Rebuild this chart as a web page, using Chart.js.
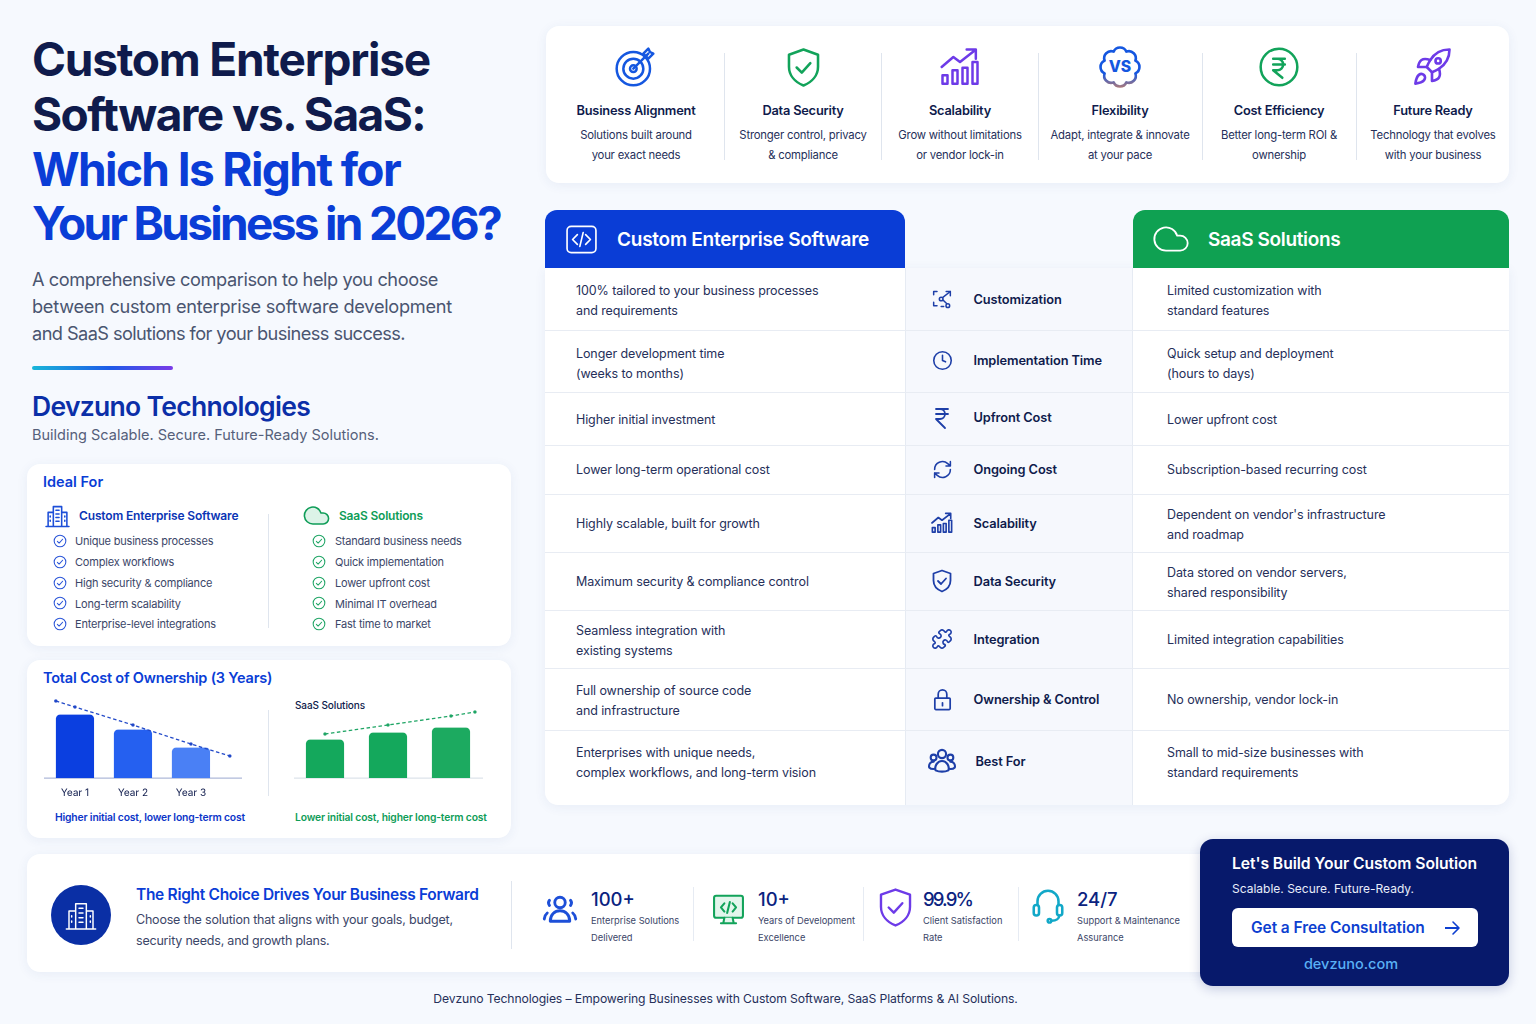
<!DOCTYPE html>
<html>
<head>
<meta charset="utf-8">
<title>Custom Enterprise Software vs. SaaS</title>
<script src="https://cdn.jsdelivr.net/npm/chart.js@4"></script>
<style>
html, body { margin: 0; padding: 0; }
body { width: 1536px; height: 1024px; position: relative; overflow: hidden; background: #f6f9fe; font-family: Inter, "Noto Sans", sans-serif; color: #0f1b4c; }
.t { position: absolute; white-space: nowrap; transform: translateY(-50%); line-height: 1; }
.box { position: absolute; }
.card { position: absolute; background: #fff; border-radius: 13px; box-shadow: 0 2px 12px rgba(40,70,140,.07); }
svg.i { position: absolute; fill: none; stroke-linecap: round; stroke-linejoin: round; overflow: visible; }
canvas { position: absolute; }
</style>
</head>
<body>
<canvas id="customChart"></canvas>
<canvas id="saasChart"></canvas>
<script>
// Chart data
var yearLabels = ["Year 1", "Year 2", "Year 3"];
var customCost = [63, 48, 30];
var saasCost = [38, 45, 50];
var customTrendAt = [0.67, 1, 2, 3, 3.67];
var customTrend = [77, 71, 53, 34, 22];
var saasTrendAt = [1, 2, 3, 3.38];
var saasTrend = [44, 53, 62, 66];

// Feature strip
var featureTitles = ["Business Alignment", "Data Security", "Scalability", "Flexibility", "Cost Efficiency", "Future Ready"];
var featureLines = [
  ["Solutions built around", "your exact needs"],
  ["Stronger control, privacy", "& compliance"],
  ["Grow without limitations", "or vendor lock-in"],
  ["Adapt, integrate & innovate", "at your pace"],
  ["Better long-term ROI &", "ownership"],
  ["Technology that evolves", "with your business"]
];

// Comparison table
var rowNames = ["Customization", "Implementation Time", "Upfront Cost", "Ongoing Cost", "Scalability", "Data Security", "Integration", "Ownership & Control", "Best For"];
var customText = [
  ["100% tailored to your business processes", "and requirements"],
  ["Longer development time", "(weeks to months)"],
  ["Higher initial investment"],
  ["Lower long-term operational cost"],
  ["Highly scalable, built for growth"],
  ["Maximum security & compliance control"],
  ["Seamless integration with", "existing systems"],
  ["Full ownership of source code", "and infrastructure"],
  ["Enterprises with unique needs,", "complex workflows, and long-term vision"]
];
var saasText = [
  ["Limited customization with", "standard features"],
  ["Quick setup and deployment", "(hours to days)"],
  ["Lower upfront cost"],
  ["Subscription-based recurring cost"],
  ["Dependent on vendor's infrastructure", "and roadmap"],
  ["Data stored on vendor servers,", "shared responsibility"],
  ["Limited integration capabilities"],
  ["No ownership, vendor lock-in"],
  ["Small to mid-size businesses with", "standard requirements"]
];

// Ideal for
var idealCustom = ["Unique business processes", "Complex workflows", "High security & compliance", "Long-term scalability", "Enterprise-level integrations"];
var idealSaas = ["Standard business needs", "Quick implementation", "Lower upfront cost", "Minimal IT overhead", "Fast time to market"];

// Stats
var statValues = ["100+", "10+", "99.9%", "24/7"];
var statLines = [
  ["Enterprise Solutions", "Delivered"],
  ["Years of Development", "Excellence"],
  ["Client Satisfaction", "Rate"],
  ["Support & Maintenance", "Assurance"]
];

var NAVY = "#0f1b4c", GREY = "#3b4668", BLUE = "#0a3dd6", GREEN = "#0f9d58";

// ----------------------------------- Icons -------------------------------------------
var ICONS = {
  target: '<circle cx="11" cy="13" r="10"/><circle cx="11" cy="13" r="6"/><circle cx="11" cy="13" r="2"/><path d="M11 13L20 4M17 4l3-3 1 2 2 1-3 3z"/>',
  shield: '<path d="M12 1.5l8.5 3v7c0 5-3.5 9-8.5 11-5-2-8.500-6-8.500-11v-7z"/><path d="M8 12l3 3 5-5.500"/>',
  growth: '<path d="M1 12l7-6 4 3 9-7M16 1.500h5.500V7"/><rect x="1.500" y="17" width="3" height="5"/><rect x="7.500" y="14" width="3" height="8"/><rect x="13.500" y="12.500" width="3" height="9.500"/><rect x="19.500" y="9" width="3" height="13"/>',
  gear: '<defs><linearGradient id="gearStroke" gradientUnits="userSpaceOnUse" x1="0" y1="12" x2="0" y2="24"><stop offset="0.3" stop-color="#1557e0"/><stop offset="1" stop-color="#b07a78"/></linearGradient></defs><path stroke="url(#gearStroke)" d="M20.780 8.360A4 4 0 0 0 15.640 3.220 4 4 0 0 0 8.360 3.220 4 4 0 0 0 3.220 8.360 4 4 0 0 0 3.220 15.640 4 4 0 0 0 8.360 20.780 4 4 0 0 0 15.640 20.780 4 4 0 0 0 20.780 15.640 4 4 0 0 0 20.780 8.360z"/><text x="12" y="15" text-anchor="middle" font-size="9" font-weight="800" fill="currentColor" stroke="none">VS</text>',
  rupeeCircle: '<circle cx="12" cy="12" r="11"/><path d="M8.500 7h7M8.500 10.500h7M8.500 7h2.500a3.500 3.500 0 0 1 0 7h-2.500l5.500 4.500"/>',
  rocket: '<path d="M4.500 16.500c-1.500 1.260-2 5-2 5s3.740-.5 5-2c.71-.84.7-2.130-.09-2.910a2.180 2.180 0 0 0-2.910-.09z"/><path d="M12 15l-3-3a22 22 0 0 1 2-3.950A12.880 12.880 0 0 1 22 2c0 2.720-.78 7.500-6 11a22.350 22.350 0 0 1-4 2z"/><path d="M9 12H4s.55-3.030 2-4c1.620-1.080 5 0 5 0"/><path d="M12 15v5s3.030-.55 4-2c1.080-1.620 0-5 0-5"/><circle cx="15.500" cy="8.500" r="1.500"/>',
  code: '<rect x="1.500" y="2.500" width="21" height="19" rx="3"/><path d="M9 8.500L5.500 12 9 15.500M15 8.500l3.500 3.500-3.500 3.500M13.200 7l-2.400 10"/>',
  cloud: '<path d="M17.500 19H9a7 7 0 1 1 6.710-9h1.790a4.500 4.500 0 1 1 0 9Z"/>',
  custom: '<path d="M2 7V3h4M2 16v4h4M17 3h5v5"/><circle cx="11" cy="12" r="2.200"/><circle cx="19" cy="20" r="2.200"/><path d="M13 10l9-7M13.500 13.500l4 4M14 21h-3"/>',
  clock: '<circle cx="12" cy="12" r="10"/><path d="M12 6v6l3.500 1.500"/>',
  rupee: '<path d="M6 3h12M6 8h12M6 3h4a5 5 0 0 1 0 10H6l9 9"/>',
  refresh: '<path d="M3 12a9 9 0 0 1 15-6.700L21 8M21 3v5h-5M21 12a9 9 0 0 1-15 6.700L3 16M8 16H3v5"/>',
  puzzle: '<path d="M19.439 7.850c-.049.322.059.648.289.878l1.568 1.568c.47.47.706 1.087.706 1.704s-.235 1.233-.706 1.704l-1.611 1.611a.98.98 0 0 1-.837.276c-.47-.07-.802-.48-.968-.925a2.501 2.501 0 1 0-3.214 3.214c.446.166.855.497.925.968a.979.979 0 0 1-.276.837l-1.610 1.610a2.404 2.404 0 0 1-1.705.707 2.402 2.402 0 0 1-1.704-.706l-1.568-1.568a1.026 1.026 0 0 0-.877-.29c-.493.074-.84.504-1.020.968a2.500 2.500 0 1 1-3.237-3.237c.464-.18.894-.527.967-1.020a1.026 1.026 0 0 0-.289-.877l-1.568-1.568A2.402 2.402 0 0 1 1.998 12c0-.617.236-1.234.706-1.704L4.230 8.770c.24-.24.581-.353.917-.303.515.077.877.528 1.073 1.010a2.500 2.500 0 1 0 3.259-3.259c-.482-.196-.933-.558-1.010-1.073-.05-.336.062-.676.303-.917l1.525-1.525A2.402 2.402 0 0 1 12 1.998c.617 0 1.234.236 1.704.706l1.568 1.568c.23.23.556.338.877.29.493-.074.84-.504 1.020-.968a2.500 2.500 0 1 1 3.237 3.237c-.464.18-.894.527-.967 1.020Z"/>',
  lock: '<rect x="4" y="10.500" width="16" height="12" rx="1"/><path d="M7.500 10.500V6.500a4.500 4.500 0 0 1 9 0v4M12 15.500v3"/>',
  users: '<circle cx="12" cy="6" r="3.500"/><circle cx="4.800" cy="9" r="2.500"/><circle cx="19.200" cy="9" r="2.500"/><path d="M6.500 20c-1-3 1-8 5.500-8s6.500 5 5.500 8c-3 1.500-8 1.500-11 0z"/><path d="M5 12.500c-3 0-4.500 2.500-4 5 1 1 3 1.500 5 1.200M19 12.500c3 0 4.500 2.500 4 5-1 1-3 1.500-5 1.200"/>',
  building: '<path d="M1 22.500h22M8 22V3.500h8V22M3 22V9h5M16 9h5v13"/><path d="M10.500 7h3M10.500 10.500h3M10.500 14h3M10.500 17.500h3M5 12.500v1M5 16.500v1M19 12.500v1M19 16.500v1"/>',
  check: '<circle cx="12" cy="12" r="10"/><path d="M7.500 12.500l3 3 6-6.500"/>',
  person: '<circle cx="12" cy="7" r="3.500"/><path d="M5.500 19.500c0-4.500 3-7 6.500-7s6.500 2.500 6.500 7z"/><path d="M5 5.500c-.8 1-.8 2.500 0 3.500M19 5.500c.8 1 .8 2.500 0 3.500M1.500 18c.2-2 1-3.200 2-4M22.500 18c-.2-2-1-3.200-2-4"/>',
  monitor: '<rect x="1.500" y="2" width="21" height="16" rx="1.500"/><path d="M9 7.500L6.500 10.500 9 13.500M15 7.500l2.500 3-2.500 3M13 6.500l-2 8M9 18l-.8 4h7.600l-.8-4M6.500 22h11"/>',
  headset: '<path d="M5 12V9.500a7 7 0 0 1 14 0V12"/><rect x="2.500" y="12" width="3.500" height="7" rx="1.700"/><rect x="18" y="12" width="3.500" height="7" rx="1.700"/><path d="M19.500 19c0 2-2 3.500-5 3.500"/><circle cx="13" cy="22.500" r="1.200"/>'
};

function icon(name, cx, cy, size, color, sw, fill) {
  document.body.insertAdjacentHTML("beforeend",
    '<svg class="i" viewBox="0 0 24 24" width="' + size + '" height="' + size + '" style="left:' + (cx - size / 2) + 'px;top:' + (cy - size / 2) + 'px;color:' + color + ';stroke:' + color + ';stroke-width:' + sw + (fill ? ';fill:' + fill : '') + '">' + ICONS[name] + '</svg>');
}

// text with y as the vertical centre
function text(str, x, y, size, weight, color, align, spacing) {
  var el = document.createElement("div");
  el.className = "t";
  el.textContent = str;
  el.style.top = (y + 0.7) + "px";
  el.style.fontSize = size + "px";
  el.style.fontWeight = weight;
  el.style.color = color;
  if (spacing) el.style.letterSpacing = spacing + "px";
  if (align == "center") {
    el.style.left = (x - 300) + "px";
    el.style.width = "600px";
    el.style.textAlign = "center";
  } else {
    el.style.left = x + "px";
  }
  document.body.appendChild(el);
  return el;
}

// squeeze a line to the width it has in the picture
function fit(el, width) {
  var now = el.getBoundingClientRect().width;
  el.style.letterSpacing = ((width - now) / el.textContent.length) + "px";
  return el;
}

function box(x, y, w, h, css, cls) {
  var el = document.createElement("div");
  el.className = cls || "box";
  el.style.cssText = "left:" + x + "px;top:" + y + "px;width:" + w + "px;height:" + h + "px;" + (css || "");
  document.body.appendChild(el);
  return el;
}

// ----------------------------------- Left column -------------------------------------------
[["Custom Enterprise", 58, NAVY, 398], ["Software vs. SaaS:", 113.500, NAVY, 393], ["Which Is Right for", 168.500, BLUE, 368], ["Your Business in 2026?", 222.500, BLUE, 468]].forEach(function (l) {
  fit(text(l[0], 32, l[1], 46, 700, l[2]), l[3]);
});
[["A comprehensive comparison to help you choose", 406], ["between custom enterprise software development", 420], ["and SaaS solutions for your business success.", 373]].forEach(function (s, i) {
  fit(text(s[0], 32, 278.500 + i * 27, 18.200, 400, "#4a5570"), s[1]);
});
box(32, 366, 141, 4, "border-radius:2px;background:linear-gradient(90deg,#19b6d8,#1d5be8 55%,#7a3be8)");
text("Devzuno Technologies", 32, 405.500, 26.500, 600, "#0b2fa8", null, -0.7);
text("Building Scalable. Secure. Future-Ready Solutions.", 32, 434.500, 14.500, 400, "#55607a");

// Ideal for card
box(27, 464, 484, 182, "", "card");
text("Ideal For", 43, 481.500, 14.500, 600, BLUE);
box(268, 514, 1, 114, "background:#dfe5ee");
icon("building", 57, 515, 25, "#1d4fd8", 1.500);
text("Custom Enterprise Software", 79, 515.500, 12, 600, "#0b35b5", null, -0.15);
icon("cloud", 316, 515, 29, GREEN, 1.300, "#dcf3e8");
text("SaaS Solutions", 339, 515.500, 12, 600, GREEN, null, -0.2);
idealCustom.forEach(function (s, i) {
  icon("check", 60, 541 + i * 20.800, 14, "#2a55d8", 1.800);
  text(s, 75, 540.500 + i * 20.800, 11, 400, GREY, null, -0.2);
});
idealSaas.forEach(function (s, i) {
  icon("check", 319, 541 + i * 20.800, 14, "#1fa565", 1.800);
  text(s, 335, 540.500 + i * 20.800, 11, 400, GREY, null, -0.2);
});

// Total cost card goes under the canvases
var tco = box(27, 660, 484, 178, "", "card");
document.body.insertBefore(tco, document.body.firstChild);
text("Total Cost of Ownership (3 Years)", 43, 677.500, 14.500, 600, BLUE, null, -0.2);
box(268, 710, 1, 86, "background:#dfe5ee");
text("SaaS Solutions", 295, 704.500, 10, 500, NAVY, null, -0.1);
text("Higher initial cost, lower long-term cost", 55, 816.500, 10.300, 600, "#0b35c8", null, -0.15);
text("Lower initial cost, higher long-term cost", 295, 816.500, 10.300, 600, GREEN, null, -0.15);

// ----------------------------------- Feature strip -------------------------------------------
box(546, 26, 963, 157, "", "card");
var featureX = [636, 803, 960, 1120, 1279, 1433];
var featureIcons = [["target", "#1557e0", 40, 635], ["shield", "#12a35a", 41, 803], ["growth", "#6d3be8", 40, 960], ["gear", "#1557e0", 42, 1120], ["rupeeCircle", "#12a35a", 40, 1279], ["rocket", "#6d3be8", 42, 1432]];
featureTitles.forEach(function (s, i) {
  var ic = featureIcons[i];
  icon(ic[0], ic[3], 67, ic[2], ic[1], 1.500);
  text(s, featureX[i], 110, 12.800, 600, NAVY, "center", -0.2);
  text(featureLines[i][0], featureX[i], 135.300, 11.300, 400, "#26305a", "center", -0.2);
  text(featureLines[i][1], featureX[i], 155.300, 11.300, 400, "#26305a", "center", -0.2);
});
[724, 881, 1038, 1202, 1356].forEach(function (x) { box(x, 53, 1, 107, "background:#dfe5ee"); });

// ----------------------------------- Comparison table -------------------------------------------
box(545, 268, 964, 537, "border-radius:0 0 13px 13px", "card");
box(905, 268, 228, 537, "background:#f6f8fd;border-left:1px solid #e6ebf3;border-right:1px solid #e6ebf3;box-sizing:border-box");
box(545, 210, 360, 58, "background:" + BLUE + ";border-radius:12px 12px 0 0");
box(1133, 210, 376, 58, "background:#0fa152;border-radius:12px 12px 0 0");
icon("code", 581.500, 239, 33, "#fff", 1.200);
text("Custom Enterprise Software", 617, 238.500, 19, 600, "#fff", null, -0.25);
icon("cloud", 1171, 239, 40, "#fff", 1.100);
text("SaaS Solutions", 1208, 238.500, 19, 600, "#fff", null, -0.35);

[330, 392, 445, 494, 552, 610, 668, 730].forEach(function (y) { box(545, y, 964, 1, "background:#e8ecf3"); });
var rowIcons = ["custom", "clock", "rupee", "refresh", "growth", "shield", "puzzle", "lock", "users"];
var rowIconSize = [20, 21, 24, 21, 22, 24, 22, 23, 28];
var nameY = [299, 360, 417.500, 469.500, 523, 581, 639, 699, 761];
var customY = [290.500, 353.500, 419.500, 469.500, 523.500, 581.500, 630.500, 690.500, 752.500];
var saasY = [290.500, 353.500, 419.500, 469.500, 514.500, 572.500, 639.500, 699.500, 752.500];
rowNames.forEach(function (s, i) {
  icon(rowIcons[i], 942, nameY[i], rowIconSize[i], "#1e3fa8", 1.800);
  text(s, i == 8 ? 975.500 : 973.500, nameY[i], 12.800, 600, NAVY, null, -0.1);
  customText[i].forEach(function (l, j) { text(l, 576, customY[i] + j * 19.500, 12.500, 400, "#26305a", null, -0.1); });
  saasText[i].forEach(function (l, j) { text(l, 1167, saasY[i] + j * 19.500, 12.500, 400, "#26305a", null, -0.1); });
});

// ----------------------------------- Bottom band -------------------------------------------
box(27, 854, 1190, 118, "", "card");
box(51, 885, 60, 60, "background:#0a2fa5;border-radius:50%");
icon("building", 81, 915, 32, "#fff", 1.100);
text("The Right Choice Drives Your Business Forward", 136, 894.500, 15.500, 600, BLUE, null, -0.3);
text("Choose the solution that aligns with your goals, budget,", 136, 919.500, 12.500, 400, GREY, null, -0.2);
text("security needs, and growth plans.", 136, 940.500, 12.500, 400, GREY, null, -0.2);
box(511, 881, 1, 68, "background:#dfe5ee");
[693, 863, 1018].forEach(function (x) { box(x, 887, 1, 54, "background:#e6ebf3"); });
var statX = [591, 758, 923, 1077];
var statIcons = [["person", 560, 910, 36, "#1d4fd8", 1.900, null], ["monitor", 728, 909, 33, "#12a35a", 1.500, "#e3f6ec"], ["shield", 895, 907, 41, "#6d3be8", 1.400, null], ["headset", 1048, 905, 36, "#12a8c8", 1.700, null]];
statValues.forEach(function (s, i) {
  var ic = statIcons[i];
  icon(ic[0], ic[1], ic[2], ic[3], ic[4], ic[5], ic[6]);
  var v = text(s, statX[i], 898.500, 18.500, 500, "#0b2380");
  if (i == 2) fit(v, 49);
  text(statLines[i][0], statX[i], 920, 9.300, 400, GREY);
  text(statLines[i][1], statX[i], 937, 9.300, 400, GREY);
});

box(1200, 839, 309, 147, "background:#07196b;border-radius:13px;box-shadow:0 3px 12px rgba(7,25,107,.2)");
text("Let's Build Your Custom Solution", 1232, 863.500, 15.700, 600, "#fff", null, -0.07);
text("Scalable. Secure. Future-Ready.", 1232, 888.500, 12, 400, "#e8edfa");
box(1232, 908, 246, 39, "background:#fff;border-radius:6px");
text("Get a Free Consultation", 1251, 927.500, 15.500, 600, "#0d3fd0", null, -0.07);
box(1445, 927, 14, 1.600, "background:#0d3fd0");
document.body.insertAdjacentHTML("beforeend", '<svg class="i" viewBox="0 0 16 16" width="16" height="16" style="left:1445px;top:920px;stroke:#0d3fd0;stroke-width:1.600"><path d="M8 2l6 6-6 6"/></svg>');
text("devzuno.com", 1351, 963.500, 14.500, 500, "#5ab0f5", "center");
text("Devzuno Technologies – Empowering Businesses with Custom Software, SaaS Platforms & AI Solutions.", 725.500, 998.500, 12.200, 400, "#26305a", "center", -0.12);

// ----------------------------------- Chart.js -------------------------------------------
function toPoints(xs, ys) {
  return ys.map(function (v, i) { return { x: xs[i], y: v }; });
}

function costChart(id, left, xMin, xMax, costs, barColors, trendAt, trend, trendColor, axisColor) {
  var canvas = document.getElementById(id);
  canvas.style.left = left + "px";
  canvas.style.top = "695px";
  canvas.style.zIndex = 1;
  return new Chart(canvas, {
    type: 'bar',
    data: {
      datasets: [
        {
          type: 'line',
          data: toPoints(trendAt, trend),
          borderColor: trendColor,
          backgroundColor: trendColor,
          borderWidth: 1.300,
          borderDash: [3.500, 2.500],
          pointRadius: 1,
          clip: false,
          order: 1
        }, {
          data: toPoints(yearLabels.map(function (y, i) { return i + 1; }), costs),
          backgroundColor: barColors,
          barThickness: 37.500,
          borderRadius: { topLeft: 4, topRight: 4 },
          borderSkipped: 'bottom',
          order: 2
        }
      ]
    },
    options: {
      responsive: false,
      animation: false,
      devicePixelRatio: 2,
      layout: { padding: 0, autoPadding: false },
      plugins: { legend: { display: false }, tooltip: { enabled: false } },
      scales: {
        x: {
          type: 'linear',
          min: xMin,
          max: xMax,
          offset: false,
          afterFit: function (scale) {
            scale.height = 27;
            scale.paddingLeft = 0;
            scale.paddingRight = 0;
          },
          grid: { display: false, drawTicks: false },
          border: { color: axisColor, width: 1.200 },
          ticks: {
            stepSize: 1,
            includeBounds: false,
            autoSkip: false,
            maxRotation: 0,
            padding: 9,
            color: NAVY,
            font: { family: 'Inter', size: 10 },
            callback: function (v) { return yearLabels[v - 1]; }
          }
        },
        y: { display: false, min: 0, max: 83 }
      }
    }
  });
}

document.getElementById("customChart").width = 198;
document.getElementById("customChart").height = 110;
document.getElementById("saasChart").width = 189;
document.getElementById("saasChart").height = 110;

costChart("customChart", 44, 0.466, 3.880, customCost, ["#0b3fe0", "#2560f0", "#4a80f5"], customTrendAt, customTrend, "#2148c8", "#aeb8d8");
costChart("saasChart", 294, 0.508, 3.508, saasCost, ["#14a85c", "#14a85c", "#1caa60"], saasTrendAt, saasTrend, "#1fa565", "#dce3ea");
</script>
</body>
</html>
